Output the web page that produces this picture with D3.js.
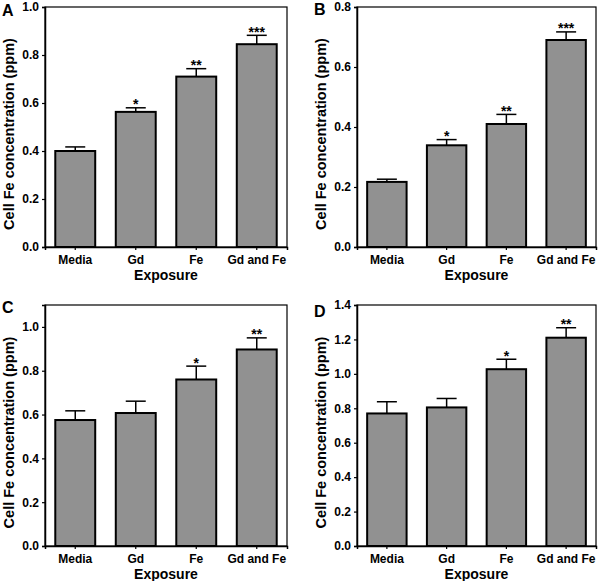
<!DOCTYPE html>
<html>
<head>
<meta charset="utf-8">
<script src="https://cdn.jsdelivr.net/npm/d3@7"></script>
<style>
  body { margin: 0; background: #fff; }
  text { font-family: "Liberation Sans", Arial, sans-serif; font-weight: bold; fill: #000; }
</style>
</head>
<body>
<div id="viz"></div>
<script>
// exposure groups, shared by all four panels
const categories = ["Media", "Gd", "Fe", "Gd and Fe"];

// mean cell Fe (ppm) and upper error (mean + SE)
const valuesA = [0.40, 0.563, 0.71, 0.845];
const errorsA = [0.417, 0.580, 0.743, 0.882];
const starsA = ["", "*", "**", "***"];

const valuesB = [0.217, 0.339, 0.41, 0.69];
const errorsB = [0.226, 0.358, 0.442, 0.717];
const starsB = ["", "*", "**", "***"];

const valuesC = [0.575, 0.607, 0.76, 0.897];
const errorsC = [0.617, 0.661, 0.821, 0.95];
const starsC = ["", "", "*", "**"];

const valuesD = [0.77, 0.805, 1.027, 1.21];
const errorsD = [0.838, 0.857, 1.085, 1.268];
const starsD = ["", "", "*", "**"];

const ticksA = [0, 0.2, 0.4, 0.6, 0.8, 1.0];
const ticksB = [0, 0.2, 0.4, 0.6, 0.8];
const ticksC = [0, 0.2, 0.4, 0.6, 0.8, 1.0];
const ticksD = [0, 0.2, 0.4, 0.6, 0.8, 1.0, 1.2, 1.4];

const width = 600;
const height = 581;

const svg = d3.select("#viz")
  .append("svg")
  .attr("width", width)
  .attr("height", height);

const panels = [
  { label: "A", values: valuesA, errors: errorsA, stars: starsA, ticks: ticksA, max: 1.0, x: 45, y: 7, w: 242, h: 240, ly: 9 },
  { label: "B", values: valuesB, errors: errorsB, stars: starsB, ticks: ticksB, max: 0.8, x: 357, y: 7, w: 239, h: 240, ly: 8 },
  { label: "C", values: valuesC, errors: errorsC, stars: starsC, ticks: ticksC, max: 1.1, x: 45, y: 305, w: 242, h: 241, ly: 8 },
  { label: "D", values: valuesD, errors: errorsD, stars: starsD, ticks: ticksD, max: 1.4, x: 357, y: 305, w: 239, h: 241, ly: 12 }
];

panels.forEach(drawPanel);

function drawPanel(p) {
  const g = svg.append("g").attr("transform", `translate(${p.x},${p.y})`);

  const x = d3.scaleBand()
    .domain(categories)
    .range([0, p.w])
    .paddingInner(0.34)
    .paddingOuter(0.17);

  const y = d3.scaleLinear()
    .domain([0, p.max])
    .range([p.h, 0]);

  const rows = categories.map((c, i) => ({ cat: c, v: p.values[i], e: p.errors[i], s: p.stars[i] }));

  // error bars (upper only)
  const err = g.append("g").attr("stroke", "#000").attr("stroke-width", 1.5);
  err.selectAll("line.stem")
    .data(rows)
    .enter().append("line")
    .attr("x1", d => x(d.cat) + x.bandwidth() / 2)
    .attr("x2", d => x(d.cat) + x.bandwidth() / 2)
    .attr("y1", d => y(d.v))
    .attr("y2", d => y(d.e));
  err.selectAll("line.cap")
    .data(rows)
    .enter().append("line")
    .attr("x1", d => x(d.cat) + x.bandwidth() / 2 - 10)
    .attr("x2", d => x(d.cat) + x.bandwidth() / 2 + 10)
    .attr("y1", d => y(d.e))
    .attr("y2", d => y(d.e));

  // bars
  g.append("g")
    .selectAll("rect")
    .data(rows)
    .enter().append("rect")
    .attr("x", d => x(d.cat))
    .attr("width", x.bandwidth())
    .attr("y", d => y(d.v))
    .attr("height", d => y(0) - y(d.v))
    .attr("fill", "#919191")
    .attr("stroke", "#000")
    .attr("stroke-width", 2);

  // significance stars
  g.append("g")
    .selectAll("text")
    .data(rows)
    .enter().append("text")
    .attr("x", d => x(d.cat) + x.bandwidth() / 2)
    .attr("y", d => y(d.e) + 1.5)
    .attr("text-anchor", "middle")
    .style("font-size", "14px")
    .text(d => d.s);

  // frame
  g.append("rect")
    .attr("width", p.w)
    .attr("height", p.h)
    .attr("fill", "none")
    .attr("stroke", "#000")
    .attr("stroke-width", 1.2);

  // axes
  const yAxis = g.append("g")
    .call(d3.axisLeft(y).tickValues(p.ticks).tickFormat(d3.format(".1f")).tickSize(3).tickPadding(3));
  const xAxis = g.append("g")
    .attr("transform", `translate(0,${p.h})`)
    .call(d3.axisBottom(x).tickSize(3).tickPadding(5));

  [yAxis, xAxis].forEach(a => {
    a.select(".domain").attr("stroke", "#000").attr("stroke-width", 1.5);
    a.selectAll(".tick line").attr("stroke", "#000").attr("stroke-width", 1.2);
    a.selectAll("text").style("font-family", "'Liberation Sans', Arial, sans-serif")
      .style("font-weight", "bold").style("font-size", "12px").attr("fill", "#000");
  });

  // titles
  g.append("text")
    .attr("x", p.w / 2)
    .attr("y", p.h + 33)
    .attr("text-anchor", "middle")
    .style("font-size", "14px")
    .text("Exposure");

  g.append("text")
    .attr("transform", `translate(-31,${p.h / 2 + 7}) rotate(-90)`)
    .attr("text-anchor", "middle")
    .style("font-size", "14.5px")
    .text("Cell Fe concentration (ppm)");

  g.append("text")
    .attr("x", -43)
    .attr("y", p.ly)
    .style("font-size", "16px")
    .text(p.label);
}
</script>
</body>
</html>
